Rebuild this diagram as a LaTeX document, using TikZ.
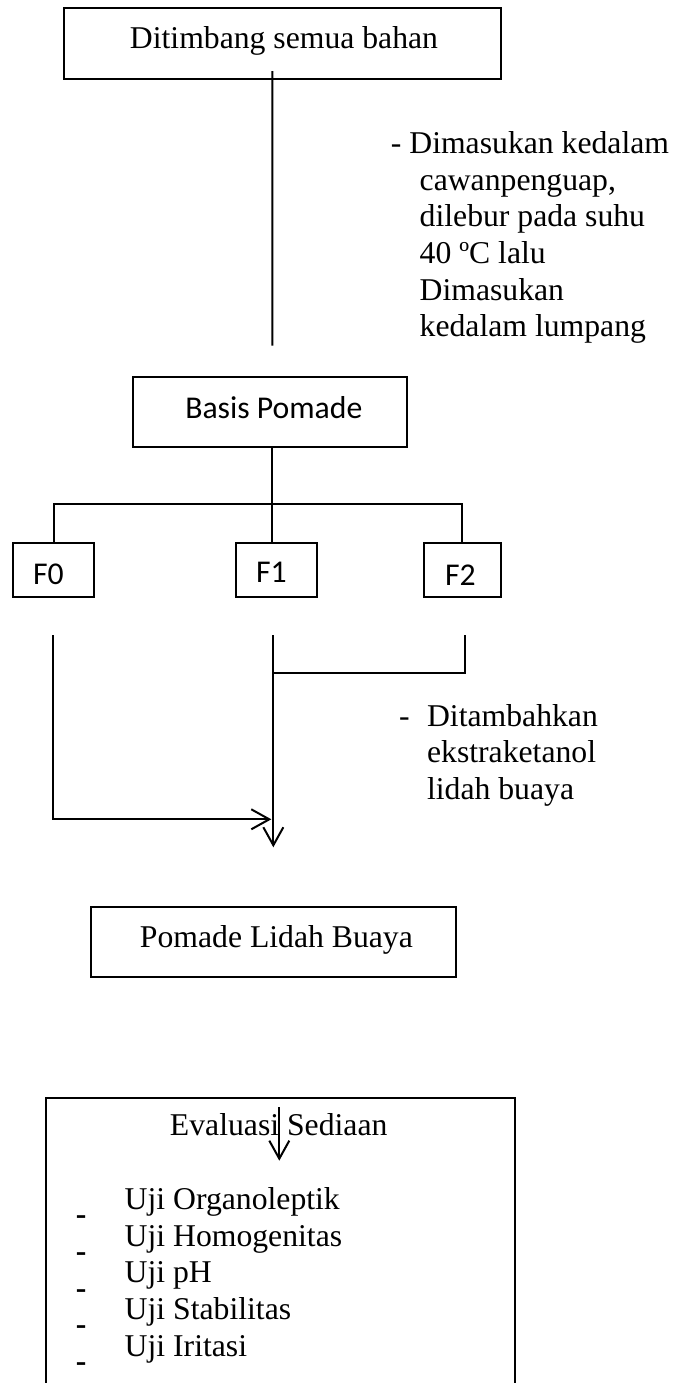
\documentclass[tikz,border=0pt]{standalone}
\usepackage{fontspec}
\setmainfont{Liberation Serif}
\newfontfamily\calibri{Carlito}
\usetikzlibrary{arrows.meta,calc}
\begin{document}
\begin{tikzpicture}[x=0.5pt,y=-0.5pt,
  fs/.style={font=\fontsize{15.85pt}{18.35pt}\selectfont},
  fsc/.style={font=\calibri\fontsize{15.85pt}{18.35pt}\selectfont},
  box/.style={draw, line width=1pt, inner xsep=0pt, inner ysep=0pt, anchor=base},
  ln/.style={line width=1pt},
  arr/.style={line width=1pt, -{Straight Barb[length=9pt,width=10pt]}},
  txt/.style={inner sep=0pt, anchor=base west, align=left, fs}]
\fill[white] (0,0) rectangle (675,1383);
\useasboundingbox (0,0) rectangle (675,1383);

% boxes
\node[box, fs, minimum width=218.5pt, text height=20pt, text depth=15.35pt] (top) at (282.5,48.3) {\hspace*{1.5pt}Ditimbang semua bahan};
\node[box, fsc, minimum width=137.3pt, text height=20.8pt, text depth=14.2pt] (basis) at (270,418.3) {\hspace*{3.8pt}Basis Pomade};
\node[box, fsc, minimum width=40.8pt, text height=20.35pt, text depth=6.65pt] (F0) at (53.5,584) {F0\hspace*{5pt}};
\node[box, fsc, minimum width=40.65pt, text height=19.5pt, text depth=7.5pt] (F1) at (276.35,582.3) {F1\hspace*{5pt}};
\node[box, fsc, minimum width=38.65pt, text height=20.85pt, text depth=6.15pt] (F2) at (462.35,585) {F2\hspace*{2pt}};
\node[box, fs, minimum width=182.5pt, text height=20pt, text depth=14.7pt] (pomade) at (273.2,947.3) {\hspace*{3.2pt}Pomade Lidah Buaya};

% notes (anchor = baseline of the last line)
\node[txt] (note1) at (390.5,336.8) {- Dimasukan kedalam\\\hspace*{14.4pt}cawanpenguap,\\\hspace*{14.4pt}dilebur pada suhu\\\hspace*{14.4pt}40 ºC lalu\\\hspace*{14.4pt}Dimasukan\\\hspace*{14.4pt}kedalam lumpang};
\node[txt] (note2) at (398.8,799.4) {-\hspace{8.67pt}Ditambahkan\\\hspace*{13.95pt}ekstraketanol\\\hspace*{13.95pt}lidah buaya};

% evaluation box
\draw[ln] (45.7,1383) |- (515,1098.3) -- (515,1383);
\node[fs, inner sep=0pt, anchor=base] (evtitle) at (278.7,1135.7) {Evaluasi Sediaan};
\node[txt] (uji) at (124.3,1356.1) {Uji Organoleptik\\Uji Homogenitas\\Uji pH\\Uji Stabilitas\\Uji Iritasi};
\node[txt, font=\bfseries\fontsize{15.85pt}{18.35pt}\selectfont] (dashes) at (75.4,1371.4) {-\\-\\-\\-\\-};

% connectors
\draw[ln] ($(top.south)+(-10.2,-9)$) -- ($(basis.north)+(2.3,-30)$);
\coordinate (bj) at (271.7,504);
\draw[ln] (basis.south -| bj) -- (bj);
\draw[ln] (F0.north) -- (F0.north |- bj) -- (F2.north |- bj) -- (F2.north);
\draw[ln] (bj) -- (bj |- F1.north);

\coordinate (d0) at ($(F0.south)+(-0.8,36.7)$);
\coordinate (d1) at ($(F1.south)+(-3,36.7)$);
\coordinate (d2) at ($(F2.south)+(2.65,36.7)$);
\coordinate (pe) at ($(pomade.north)+(0,-59)$);
\coordinate (hz) at ($(d0)+(0,184.3)$);
\draw[arr] (d1) -- (d1 |- pe);
\draw[ln] (d2) -- ($(d2)+(0,38.3)$) -- ($(d1)+(0,38.3)$);
\draw[arr] (d0) -- (hz) -- ($(hz -| d1)+(-2,0)$);

\coordinate (ea) at ($(evtitle.base)+(0.6,-28.4)$);
\coordinate (eb) at ($(evtitle.base)+(0.6,25)$);
\draw[arr] (ea) -- (eb);
\end{tikzpicture}
\end{document}
